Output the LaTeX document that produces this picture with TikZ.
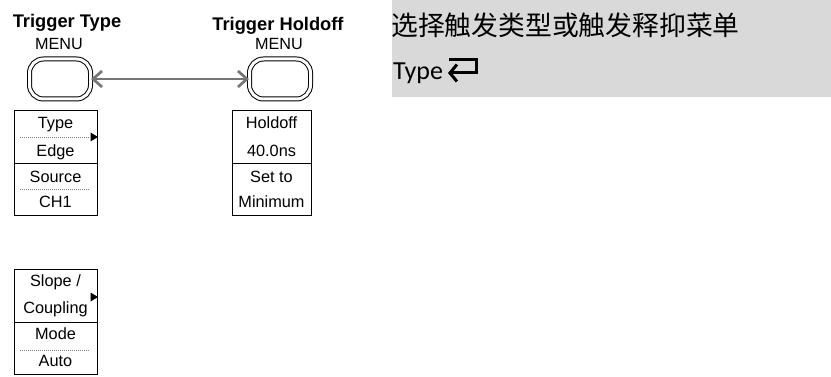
\documentclass[tikz,border=0pt]{standalone}
\usepackage{fontspec}
\setmainfont{Liberation Sans}
\newfontfamily\cjk{Noto Sans CJK SC}
\newfontfamily\cali{Carlito}
\usetikzlibrary{arrows.meta}
\definecolor{panelgray}{RGB}{217,217,217}
\definecolor{arrowgray}{RGB}{118,118,118}
\tikzset{
  btn/.style={draw=black, line width=1pt, double=white, double distance=3pt,
    rounded corners=14pt, minimum width=61pt, minimum height=40pt, inner sep=0pt},
  menubox/.style={draw=black, line width=0.8pt, anchor=north west, inner sep=0pt},
  item/.style={anchor=base, inner sep=0pt, font=\fontsize{16.3}{19}\selectfont},
  title/.style={anchor=base, inner sep=0pt, font=\bfseries\fontsize{18.3}{21}\selectfont},
  menulbl/.style={anchor=base, inner sep=0pt, font=\fontsize{16.2}{19}\selectfont},
  dotline/.style={draw=gray, line width=0.7pt, dash pattern=on 1pt off 1pt},
  divline/.style={draw=black, line width=0.8pt},
  tri/.style={fill=black},
  link/.style={draw=arrowgray, line width=2.7pt, {Straight Barb[length=9pt,width=16pt]}-{Straight Barb[length=9pt,width=16pt]}},
}
\begin{document}
\begin{tikzpicture}[x=1pt,y=-1pt]
\useasboundingbox (0,0) rectangle (831,377);
% right grey panel
\fill[panelgray] (392,0) rectangle (831,97);
\node[anchor=base west, inner sep=0pt, font=\cjk\fontsize{26.8}{31}\selectfont] (cn) at (391,36) {选择触发类型或触发释抑菜单};
\node[anchor=base west, inner sep=0pt, font=\cali\fontsize{26}{30}\selectfont] (ty) at (393,80) {Type};
\coordinate (r1) at (449,59.5);
\coordinate (r2) at (476,59.5);
\coordinate (r3) at (476,73);
\coordinate (r4) at (448,73);
\draw[line width=3pt, -{Straight Barb[length=7pt,width=17pt]}] (r1) -- (r2) -- (r3) -- (r4);

% headers
\node[title] (t1) at (67,28) {Trigger Type};
\node[menulbl] (m1) at (59,50) {MENU};
\node[title] (t2) at (278,31) {Trigger Holdoff};
\node[menulbl] (m2) at (279,50) {MENU};

% buttons
\node[btn] (b1) at (60,79) {};
\node[btn] (b2) at (280,79) {};
\draw[link] (b1.east) -- (b2.west);

% left menu box
\node[menubox, minimum width=83pt, minimum height=105pt] (box1) at (14,110) {};
\draw[divline] (14,163) -- (97,163);
\draw[dotline] (20,137) -- (90,137);
\draw[dotline] (20,189) -- (90,189);
\fill[tri] (98,137) -- (90.5,132.5) -- (90.5,141.5) -- cycle;
\node[item] (i1) at (55.5,129) {Type};
\node[item] (i2) at (55.5,157) {Edge};
\node[item] (i3) at (55.5,183) {Source};
\node[item] (i4) at (55.5,208) {CH1};

% right menu box
\node[menubox, minimum width=79pt, minimum height=105pt] (box2) at (232,110) {};
\draw[divline] (232,163) -- (311,163);
\node[item] (j1) at (271.5,129) {Holdoff};
\node[item] (j2) at (271.5,157) {40.0ns};
\node[item] (j3) at (271.5,183) {Set to};
\node[item] (j4) at (271.5,208) {Minimum};

% bottom menu box
\node[menubox, minimum width=83pt, minimum height=105pt] (box3) at (14,269) {};
\draw[divline] (14,322) -- (97,322);
\draw[dotline] (20,350) -- (90,350);
\fill[tri] (98,297) -- (90.5,292.5) -- (90.5,301.5) -- cycle;
\node[item] (k1) at (55.5,287) {Slope /};
\node[item] (k2) at (55.5,313) {Coupling};
\node[item] (k3) at (55.5,339) {Mode};
\node[item] (k4) at (55.5,366) {Auto};
\end{tikzpicture}
\end{document}
